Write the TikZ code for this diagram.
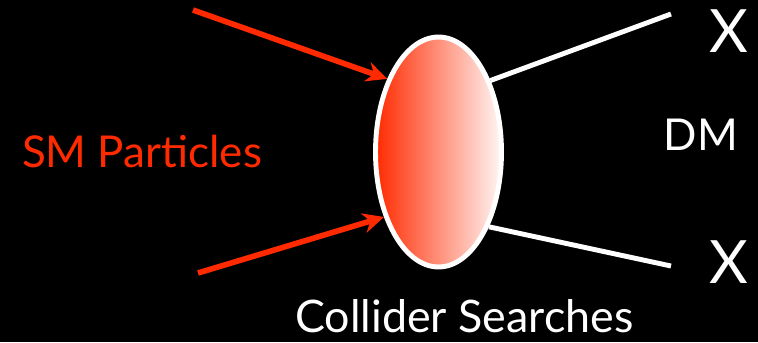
\documentclass[tikz,border=0pt]{standalone}
\usepackage{fontspec}
\setmainfont{Lato}
\usepackage{tikz}
\usetikzlibrary{arrows.meta,positioning,calc,shapes.geometric}
\definecolor{smred}{RGB}{255,42,0}
\tikzset{
  blob/.style={ellipse,draw=white,line width=2.8pt,left color=smred,right color=white!96!smred,
    minimum width=2.52cm,minimum height=4.6cm,inner sep=0pt},
  smarrow/.style={-{Stealth[length=4.2mm,width=4mm]},draw=smred,line width=3.2pt},
  dmline/.style={draw=white,line width=2.8pt},
  whitelabel/.style={text=white,anchor=base,inner sep=0pt},
  redlabel/.style={text=smred,anchor=base,inner sep=0pt}
}
\begin{document}
\begin{tikzpicture}[x=0.02cm,y=-0.02cm]
  \fill[black] (0,0) rectangle (758,342);
  \useasboundingbox (0,0) rectangle (758,342);
  % vertex
  \node[blob] (vertex) at (438.5,152) {};
  % incoming SM legs
  \coordinate (smin1) at (193,10);
  \coordinate (smin2) at (198,273);
  \draw[smarrow] (smin1) -- (vertex.125);
  \draw[smarrow] (smin2) -- (vertex.230);
  % outgoing DM legs
  \coordinate (dmout1) at (671,14);
  \coordinate (dmout2) at (671,266);
  \draw[dmline] (vertex.54) -- (dmout1);
  \draw[dmline] (vertex.304) -- (dmout2);
  % labels
  \node[redlabel,font=\fontsize{25}{28}\selectfont] (smlabel) at (142,167) {SM Particles};
  \node[whitelabel,font=\fontsize{25.5}{28}\selectfont] (colllabel) at (464.5,332) {Collider Searches};
  \node[whitelabel,font=\fontsize{25}{28}\selectfont] (dmlabel) at (701,150) {DM};
  \node[whitelabel,font=\fontsize{34}{38}\selectfont] (chi1) at (729,52) {Χ};
  \node[whitelabel,font=\fontsize{34}{38}\selectfont] (chi2) at (729,283) {Χ};
\end{tikzpicture}
\end{document}
